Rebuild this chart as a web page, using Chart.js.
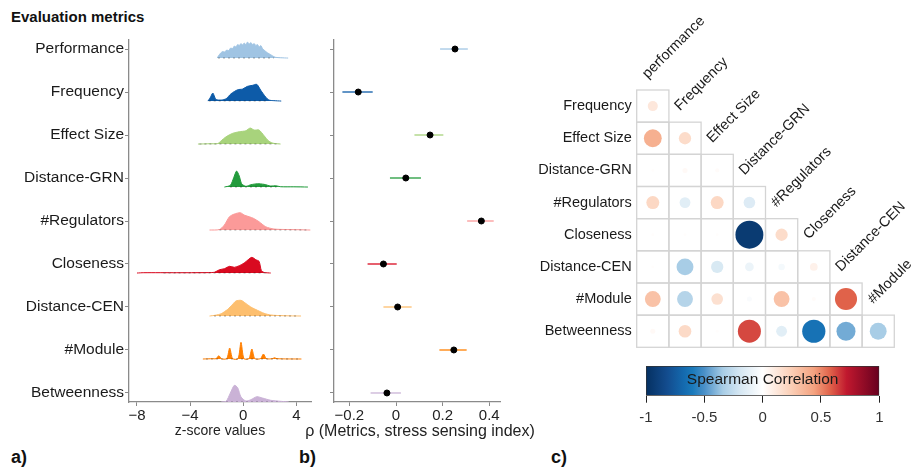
<!DOCTYPE html>
<html>
<head>
<meta charset="utf-8">
<script src="https://cdn.jsdelivr.net/npm/chart.js@4.4.1/dist/chart.umd.min.js"></script>
<style>
  body { margin: 0; width: 914px; height: 469px; background: #fff; position: relative; overflow: hidden;
         font-family: "Liberation Sans", Arial, Helvetica, sans-serif; }
  canvas { position: absolute; }
  .lbl { position: absolute; font-weight: bold; color: #111; white-space: nowrap; }
</style>
</head>
<body>
<div class="lbl" style="left:11px;top:8px;font-size:15px">Evaluation metrics</div>
<div class="lbl" style="left:11px;top:447px;font-size:18px">a)</div>
<div class="lbl" style="left:299px;top:447px;font-size:18px">b)</div>
<div class="lbl" style="left:551px;top:447px;font-size:18px">c)</div>
<canvas id="ridges" width="320" height="445" style="left:0;top:0"></canvas>
<canvas id="rho" width="270" height="445" style="left:285px;top:0"></canvas>
<canvas id="corr" width="394" height="469" style="left:520px;top:0"></canvas>
<canvas id="cbar" width="290" height="80" style="left:620px;top:350px"></canvas>
<script>
// ---- data ----
const metrics = ['Performance', 'Frequency', 'Effect Size', 'Distance-GRN', '#Regulators',
                 'Closeness', 'Distance-CEN', '#Module', 'Betweenness'];
const metricColors = ['#a0c4e3', '#0d5ba8', '#a8d37c', '#239b3c', '#fb9a99',
                      '#d90a20', '#fdbf6f', '#ff7f00', '#cab2d6'];

// ridge profiles: [z-score, ridge height]
const perfDensity = [[-1.96,0],[-1.85,2.5],[-1.7,5],[-1.55,6.5],[-1.4,6],[-1.25,8],[-1.1,7.5],[-0.95,10],[-0.8,9.5],
  [-0.67,12],[-0.55,11],[-0.42,13.5],[-0.3,12.5],[-0.17,14.5],[-0.05,13],[0.07,15],[0.2,13.5],[0.32,16],[0.45,14],
  [0.57,15.5],[0.7,13.5],[0.82,14.5],[0.95,12.5],[1.07,13.5],[1.2,11],[1.32,12.5],[1.45,9.5],[1.57,8],[1.7,6.5],
  [1.82,5.3],[2.07,3.3],[2.3,1.5],[2.44,0.7],[2.8,0.3],[3.38,0]];
const freqDensity = [[-2.66,0],[-2.5,3],[-2.29,8],[-2.15,4],[-2.04,1.5],[-1.66,1],[-1.29,2.3],[-0.92,7.3],[-0.42,11.3],
  [-0.05,12],[0.32,14.7],[0.69,15.7],[1.02,16.7],[1.32,10.7],[1.69,4],[1.94,1],[2.3,0.4],[2.86,0]];
const effectDensity = [[-3.41,0],[-2.5,0.3],[-1.92,0.5],[-1.66,3.3],[-1.29,7.3],[-0.8,10.7],[-0.3,12.3],[0.2,13.3],
  [0.52,16],[0.82,14],[1.19,14],[1.57,8.3],[1.94,2.7],[2.3,0.7],[2.81,0]];
const grnDensity = [[-1.42,0],[-0.97,1.7],[-0.72,9.3],[-0.5,16],[-0.3,11],[-0.12,3.3],[0.2,0.7],[0.57,2.3],[1.07,3.3],
  [1.57,2.7],[2.07,1],[2.44,1.3],[2.81,0.3],[3.8,0.2],[4.87,0]];
const regDensity = [[-2.54,0],[-1.79,0.5],[-1.42,5],[-1.04,13.3],[-0.67,16],[-0.22,17.3],[0.12,14.7],[0.45,13.3],
  [0.77,11.7],[1.19,8.3],[1.69,3.3],[2.31,1],[3.31,0.5],[4.2,0.3],[5.05,0]];
const closeDensity = [[-8.0,0],[-7.5,0.3],[-5,0.3],[-3.9,0.3],[-2.6,0.4],[-2.16,0.8],[-1.79,3.3],[-1.42,4.3],[-1.04,6.7],
  [-0.67,5.7],[-0.3,7.3],[0.07,10],[0.37,13.3],[0.65,15.7],[0.95,13.3],[1.19,11.7],[1.37,2.3],[1.6,0.5],[2.07,0]];
const cenDensity = [[-2.54,0],[-2.1,0.8],[-1.66,2.3],[-1.17,6.7],[-0.8,11.7],[-0.55,15],[-0.17,15.7],[0.12,13.3],
  [0.57,9],[1.07,5.7],[1.57,2.7],[2.07,1],[3.06,0.3],[4.35,0]];
const moduleDensity = [[-3.04,0],[-2.3,0.3],[-2.04,0.3],[-1.84,3.3],[-1.64,0.3],[-1.24,0.4],[-1.02,11],[-0.8,0.4],
  [-0.39,0.4],[-0.17,16.7],[0.05,0.4],[0.43,0.4],[0.65,10],[0.87,0.4],[1.3,0.4],[1.52,5],[1.74,0.4],[2.18,0.3],
  [2.36,1.3],[2.54,0.3],[4.38,0]];
const betwDensity = [[-1.66,0],[-1.29,0.7],[-0.97,9],[-0.67,16.7],[-0.42,14.3],[-0.17,5],[0.2,1],[0.57,2.3],[1.02,5.3],
  [1.44,4],[2.07,1.7],[2.81,0.7],[3.43,0]];
const densities = [perfDensity, freqDensity, effectDensity, grnDensity, regDensity,
                   closeDensity, cenDensity, moduleDensity, betwDensity];
// span of the point rug under each ridge
const rugRanges = [[-1.9,2.3],[-2.6,1.9],[-3.3,2.7],[-1.0,2.5],[-1.8,4.8],[-6,1.9],[-2.2,4.0],[-2.8,4.3],[-1.3,2.6]];
const zTicks = [-8, -4, 0, 4];

// spearman rho with the stress sensing index
const rhoEst  = [0.253, -0.162, 0.146, 0.042, 0.366, -0.054, 0.007, 0.248, -0.039];
const rhoLow  = [0.189, -0.230, 0.079, -0.026, 0.305, -0.122, -0.054, 0.186, -0.109];
const rhoHigh = [0.308, -0.100, 0.203, 0.107, 0.419, 0.003, 0.067, 0.303, 0.021];
const rhoTicks = [-0.2, 0, 0.2, 0.4];

// correlation matrix (lower triangle)
const corrRows = ['Frequency', 'Effect Size', 'Distance-GRN', '#Regulators', 'Closeness',
                  'Distance-CEN', '#Module', 'Betweenness'];
const corrCols = ['performance', 'Frequency', 'Effect Size', 'Distance-GRN', '#Regulators',
                  'Closeness', 'Distance-CEN', '#Module'];
const corrValues = [
  [0.12],
  [0.38, 0.18],
  [0.01, 0.03, 0.02],
  [0.20, -0.14, 0.20, -0.16],
  [0.01, 0.01, 0.01, -0.93, 0.18],
  [0.01, -0.34, -0.18, -0.09, -0.05, 0.07],
  [0.30, -0.30, 0.16, -0.03, 0.30, 0.02, 0.58],
  [0.03, 0.19, 0.01, 0.63, -0.14, -0.64, -0.43, -0.34]
];
const cbarTicks = [-1, -0.5, 0, 0.5, 1];

// ---- helpers ----
Chart.defaults.font.family = '"Liberation Sans", Arial, Helvetica, sans-serif';
Chart.defaults.color = '#1a1a1a';
const axisGrey = '#8a8a8a';
const rowPx = 43;          // pixel height of one ridge row
const nRows = metrics.length;
const baseShift = 0.21;    // ridge baseline sits below the tick

const rampStops = [[0,'#053061'],[0.09,'#134c8e'],[0.16,'#1469ae'],[0.2,'#1a7abb'],[0.25,'#4a90c8'],
  [0.33,'#a8cde6'],[0.4,'#d4e6f2'],[0.5,'#ffffff'],[0.62,'#fbd0b8'],[0.72,'#f4a27f'],[0.79,'#e0624a'],
  [0.86,'#c0182e'],[1,'#67001f']];
function hex(c) { return [1,3,5].map(i => parseInt(c.slice(i, i+2), 16)); }
function ramp(r) {
  const t = Math.max(0, Math.min(1, (r + 1) / 2));
  for (let k = 1; k < rampStops.length; k++) {
    const [t1, c1] = rampStops[k];
    if (t <= t1) {
      const [t0, c0] = rampStops[k-1];
      const f = (t - t0) / (t1 - t0);
      const a = hex(c0), b = hex(c1);
      return 'rgb(' + a.map((v, i) => Math.round(v + (b[i] - v) * f)).join(',') + ')';
    }
  }
  return rampStops[rampStops.length-1][1];
}
function withAlpha(c, a) { const [r, g, b] = hex(c); return `rgba(${r},${g},${b},${a})`; }
const minus = v => (v < 0 ? '\u2212' + Math.abs(v) : String(v));
const rowValue = k => nRows - 1 - k;

// ---- a) ridgelines ----
const ridgeSets = [];
densities.forEach((pts, k) => {
  const base = rowValue(k) - baseShift;
  ridgeSets.push({
    data: pts.map(([z, h]) => ({ x: z, y: base + h / rowPx })),
    borderColor: metricColors[k], backgroundColor: metricColors[k],
    borderWidth: 1, pointRadius: 0, tension: 0.25,
    fill: { value: base }, order: 2
  });
  ridgeSets.push({
    data: rugRanges[k].map(z => ({ x: z, y: base })),
    borderColor: 'rgba(0,0,0,0.35)', borderWidth: 1.1, borderDash: [2, 3],
    pointRadius: 0, fill: false, order: 1
  });
});

new Chart(document.getElementById('ridges'), {
  type: 'line',
  data: { datasets: ridgeSets },
  options: {
    responsive: false, animation: false, devicePixelRatio: 1,
    layout: { padding: { top: 40, right: 9, left: 0, bottom: 0 } },
    plugins: { legend: { display: false }, tooltip: { enabled: false } },
    scales: {
      x: {
        type: 'linear', min: -8.6, max: 5.1,
        afterBuildTicks: s => { s.ticks = zTicks.map(v => ({ value: v })); },
        afterFit: s => { s.height = 43; },
        ticks: { callback: v => minus(v), font: { size: 15 }, padding: 1, color: '#222' },
        grid: { drawOnChartArea: false, tickLength: 4, color: axisGrey },
        border: { color: axisGrey, width: 1.3 },
        title: { display: true, text: 'z-score values', font: { size: 14 }, padding: { top: 0, bottom: 5 }, color: '#222' }
      },
      y: {
        type: 'linear', min: -baseShift, max: nRows - 1 + baseShift,
        afterBuildTicks: s => { s.ticks = metrics.map((m, k) => ({ value: rowValue(k) })); },
        afterFit: s => { s.width = 129; },
        ticks: { callback: v => metrics[nRows - 1 - v], font: { size: 15.5 }, padding: 1, color: '#1a1a1a' },
        grid: { drawOnChartArea: false, tickLength: 4, color: axisGrey },
        border: { color: axisGrey, width: 1.3 }
      }
    }
  }
});

// ---- b) rho estimates with intervals ----
const rhoSets = metrics.map((m, k) => ({
  type: 'line',
  data: [{ x: rhoLow[k], y: rowValue(k) }, { x: rhoHigh[k], y: rowValue(k) }],
  borderColor: withAlpha(metricColors[k], 0.65), borderWidth: 2,
  pointRadius: 0, fill: false, order: 2
}));
rhoSets.push({
  type: 'scatter',
  data: rhoEst.map((v, k) => ({ x: v, y: rowValue(k) })),
  backgroundColor: '#000', borderColor: '#000', pointRadius: 3, order: 1
});

// axis title drawn under the x axis without width squeezing
const rhoTitle = {
  id: 'rhoTitle',
  afterDraw(chart) {
    const { ctx, scales: { x } } = chart;
    ctx.save();
    ctx.font = '16px "Liberation Sans", Arial, sans-serif';
    ctx.fillStyle = '#222';
    ctx.textAlign = 'center';
    ctx.textBaseline = 'middle';
    ctx.fillText('\u03c1 (Metrics, stress sensing index)', (x.left + x.right) / 2 + 3, x.bottom - 13);
    ctx.restore();
  }
};

new Chart(document.getElementById('rho'), {
  type: 'scatter',
  data: { datasets: rhoSets },
  options: {
    responsive: false, animation: false, devicePixelRatio: 1,
    layout: { padding: { top: 40, right: 55, left: 0, bottom: 0 } },
    plugins: { legend: { display: false }, tooltip: { enabled: false } },
    scales: {
      x: {
        type: 'linear', min: -0.266, max: 0.446,
        afterBuildTicks: s => { s.ticks = rhoTicks.map(v => ({ value: v })); },
        afterFit: s => { s.height = 43; },
        ticks: { callback: v => minus(v), font: { size: 15 }, padding: 1, color: '#222' },
        grid: { drawOnChartArea: false, tickLength: 4, color: axisGrey },
        border: { color: axisGrey, width: 1.3 }
      },
      y: {
        type: 'linear', min: -baseShift, max: nRows - 1 + baseShift,
        afterBuildTicks: s => { s.ticks = metrics.map((m, k) => ({ value: rowValue(k) })); },
        afterFit: s => { s.width = 49; },
        ticks: { callback: () => '' },
        grid: { drawOnChartArea: false, tickLength: 4, color: axisGrey },
        border: { color: axisGrey, width: 1.3 }
      }
    }
  },
  plugins: [rhoTitle]
});

// ---- c) correlation matrix ----
const corrPoints = [];
corrValues.forEach((row, i) => row.forEach((v, j) => corrPoints.push({ x: j, y: i, v: v })));

const cellBorders = {
  id: 'cellBorders',
  beforeDatasetsDraw(chart) {
    const { ctx, scales: { x, y } } = chart;
    ctx.save();
    ctx.strokeStyle = '#d4d4d4';
    ctx.lineWidth = 1.3;
    corrValues.forEach((row, i) => row.forEach((v, j) => {
      const x0 = x.getPixelForValue(j - 0.5), x1 = x.getPixelForValue(j + 0.5);
      const y0 = y.getPixelForValue(i - 0.5), y1 = y.getPixelForValue(i + 0.5);
      ctx.strokeRect(x0, y0, x1 - x0, y1 - y0);
    }));
    ctx.restore();
  }
};
const colLabels = {
  id: 'colLabels',
  afterDraw(chart) {
    const { ctx, scales: { x, y } } = chart;
    ctx.save();
    ctx.font = '14.5px "Liberation Sans", Arial, sans-serif';
    ctx.fillStyle = '#1a1a1a';
    ctx.textAlign = 'left';
    ctx.textBaseline = 'alphabetic';
    corrCols.forEach((name, j) => {
      const cx = x.getPixelForValue(j), top = y.getPixelForValue(j - 0.5);
      ctx.save();
      ctx.translate(cx - 5, top - 11);
      ctx.rotate(-Math.PI / 4);
      ctx.fillText(name, 0, 0);
      ctx.restore();
    });
    ctx.restore();
  }
};

// circle radius grows with sqrt(|rho|), relative to the cell size from the x scale
function circleRadius(ctx) {
  const p = corrPoints[ctx.dataIndex];
  const xs = ctx.chart.scales.x;
  if (!p || !xs) return 0;
  const cell = Math.abs(xs.getPixelForValue(1) - xs.getPixelForValue(0));
  if (!isFinite(cell) || cell <= 0) return 0;
  return 0.45 * cell * Math.sqrt(Math.abs(p.v));
}
function circleColor(ctx) {
  const p = corrPoints[ctx.dataIndex];
  return p ? ramp(p.v) : '#ffffff';
}

new Chart(document.getElementById('corr'), {
  type: 'scatter',
  data: { datasets: [{
    data: corrPoints,
    pointRadius: circleRadius,
    pointHoverRadius: circleRadius,
    pointBackgroundColor: circleColor,
    pointBorderColor: circleColor,
    pointBorderWidth: 0,
    showLine: false,
    clip: false
  }] },
  options: {
    responsive: false, animation: false, devicePixelRatio: 1,
    layout: { padding: { top: 90, right: 19.7, left: 0, bottom: 121.7 } },
    plugins: { legend: { display: false }, tooltip: { enabled: false } },
    scales: {
      x: { type: 'linear', min: -0.5, max: 7.5, display: false },
      y: {
        type: 'linear', min: -0.5, max: 7.5, reverse: true,
        afterBuildTicks: s => { s.ticks = corrRows.map((r, i) => ({ value: i })); },
        afterFit: s => { s.width = 116.7; },
        ticks: { callback: v => corrRows[v], font: { size: 14.5 }, padding: 5, color: '#1a1a1a' },
        grid: { display: false, drawTicks: false },
        border: { display: false }
      }
    }
  },
  plugins: [cellBorders, colLabels]
});

// ---- colour bar ----
const barTitle = {
  id: 'barTitle',
  afterDatasetsDraw(chart) {
    const { ctx, chartArea: a } = chart;
    ctx.save();
    ctx.font = '15.5px "Liberation Sans", Arial, sans-serif';
    ctx.fillStyle = '#1a1a1a';
    ctx.textAlign = 'center';
    ctx.textBaseline = 'middle';
    ctx.fillText('Spearman Correlation', (a.left + a.right) / 2, (a.top + a.bottom) / 2 - 1);
    ctx.restore();
  }
};

new Chart(document.getElementById('cbar'), {
  type: 'bar',
  data: { labels: [''], datasets: [{
    data: [[cbarTicks[0], cbarTicks[cbarTicks.length - 1]]],
    backgroundColor: ctx => {
      const a = ctx.chart.chartArea;
      if (!a) return '#fff';
      const g = ctx.chart.ctx.createLinearGradient(a.left, 0, a.right, 0);
      rampStops.forEach(([t, c]) => g.addColorStop(t, c));
      return g;
    },
    borderColor: '#333', borderWidth: 1, borderSkipped: false,
    barPercentage: 1, categoryPercentage: 1
  }] },
  options: {
    indexAxis: 'y',
    responsive: false, animation: false, devicePixelRatio: 1,
    layout: { padding: { top: 16, right: 30.7, left: 26, bottom: 0 } },
    plugins: { legend: { display: false }, tooltip: { enabled: false } },
    scales: {
      x: {
        type: 'linear', min: -1, max: 1,
        afterBuildTicks: s => { s.ticks = cbarTicks.map(v => ({ value: v })); },
        afterFit: s => { s.height = 34.3; },
        ticks: { callback: v => String(v), font: { size: 15 }, padding: 6, color: '#333' },
        grid: { drawOnChartArea: false, tickLength: 7, color: '#222' },
        border: { display: false }
      },
      y: { display: false }
    }
  },
  plugins: [barTitle]
});
</script>
</body>
</html>
